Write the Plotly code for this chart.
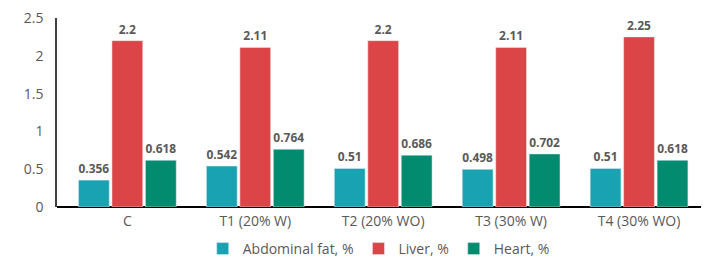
import plotly.graph_objects as go

categories = ["C", "T1 (20% W)", "T2 (20% WO)", "T3 (30% W)", "T4 (30% WO)"]
abdominal_fat = [0.356, 0.542, 0.51, 0.498, 0.51]
liver = [2.2, 2.11, 2.2, 2.11, 2.25]
heart = [0.618, 0.764, 0.686, 0.702, 0.618]
series_names = ["Abdominal fat, %", "Liver, %", "Heart, %"]
colors = ["#19A3B2", "#DC4547", "#038B6F"]
y_ticks = [0, 0.5, 1, 1.5, 2, 2.5]

FONT = "Open Sans"
# page body adds an 8px offset; figure size compensates so it fits the 709x261 window
W, H = 701, 253

fig = go.Figure()
for name, vals, col in zip(series_names, [abdominal_fat, liver, heart], colors):
    fig.add_trace(go.Bar(
        x=categories, y=vals, name=name, marker_color=col,
        text=[str(v) for v in vals], textposition="outside",
        textfont=dict(size=12, color="#595959", family=FONT),
        texttemplate="<b>%{text}</b>", cliponaxis=False,
    ))

fig.update_layout(
    width=W, height=H,
    margin=dict(l=49, r=6, t=10, b=54),
    barmode="group", bargap=0.215, bargroupgap=0.08,
    plot_bgcolor="white", paper_bgcolor="white",
    font=dict(family=FONT, color="#595959", size=14),
    showlegend=True,
    legend=dict(orientation="h", x=0.498, xanchor="center",
                yref="container", y=12 / H, yanchor="middle",
                font=dict(size=14, color="#595959", family=FONT), itemwidth=30,
                traceorder="normal"),
)
fig.update_xaxes(showline=False, ticks="", tickfont=dict(size=14, color="#595959"),
                 range=[-0.55, 4.5], automargin=False, ticklabelstandoff=4)
fig.update_yaxes(range=[0, 2.5], tickvals=y_ticks, ticktext=[str(t) for t in y_ticks],
                 showgrid=False, showline=True, linecolor="#404040", linewidth=1.5,
                 zeroline=True, zerolinecolor="#000000", zerolinewidth=1.5,
                 tickfont=dict(size=14, color="#595959"), ticks="", ticklen=0,
                 automargin=False, ticklabelstandoff=9, ticklabeloverflow="allow")

fig.write_html("out.html")
